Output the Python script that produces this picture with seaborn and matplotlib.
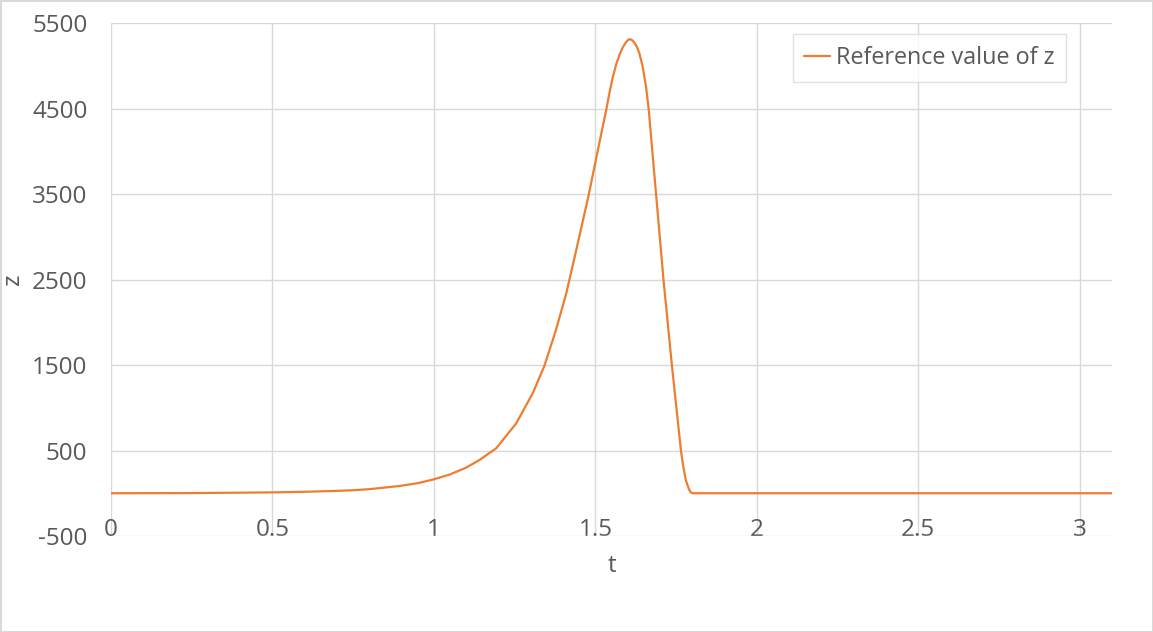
import pandas as pd
import matplotlib
matplotlib.use("Agg")
import matplotlib.pyplot as plt
import seaborn as sns

# valores
t_vals = [0.0, 0.25, 0.5, 0.6, 0.7, 0.75, 0.8, 0.894, 0.95, 1.0, 1.05, 1.1, 1.141,
          1.193, 1.255, 1.306, 1.342, 1.378, 1.41, 1.44, 1.48, 1.5, 1.518, 1.533,
          1.543, 1.553, 1.564, 1.575, 1.585, 1.593, 1.6, 1.605, 1.612, 1.62, 1.628,
          1.636, 1.646, 1.657, 1.665, 1.688, 1.711, 1.737, 1.765, 1.772, 1.78,
          1.79, 1.795, 1.8, 1.85, 2.0, 2.5, 3.0, 3.1]
z_vals = [0, 2, 10, 17, 28, 35, 48, 85, 118, 163, 220, 300, 389,
          526, 818, 1169, 1488, 1909, 2339, 2830, 3500, 3870, 4200, 4470,
          4670, 4850, 5010, 5130, 5215, 5265, 5298, 5310, 5305, 5275, 5225,
          5150, 5000, 4755, 4500, 3500, 2500, 1500, 500, 320, 155,
          45, 15, 0, 0, 0, 0, 0, 0]
serie_label = "Reference value of z"
y_ticks = [-500, 500, 1500, 2500, 3500, 4500, 5500]
x_ticks = [0, 0.5, 1, 1.5, 2, 2.5, 3]
x_tick_labels = ["0", "0.5", "1", "1.5", "2", "2.5", "3"]

dados = pd.DataFrame({"t": t_vals, "z": z_vals})

sns.set_theme(style="white")
plt.rcParams["font.family"] = ["Open Sans", "DejaVu Sans"]
plt.rcParams["axes.unicode_minus"] = False

cinza_txt = "#595959"
cinza_grid = "#d9d9d9"
laranja = "#ED7D31"

fig = plt.figure(figsize=(11.53, 6.32), dpi=100)
fig.patch.set_edgecolor(cinza_grid)
fig.patch.set_linewidth(2)
ax = fig.add_axes([0.0963, 0.1519, 0.8681, 0.8117])

sns.lineplot(data=dados, x="t", y="z", ax=ax, color=laranja, linewidth=1.6,
             label=serie_label)

ax.set_xlim(0, 3.1)
ax.set_ylim(-500, 5500)
ax.set_yticks(y_ticks)
ax.set_xticks(x_ticks)
ax.set_xticklabels(x_tick_labels)
ax.grid(True, color=cinza_grid, linewidth=1)
for s in ax.spines.values():
    s.set_visible(False)

ax.tick_params(axis="y", length=0, pad=17, labelsize=17.5, labelcolor=cinza_txt)
ax.tick_params(axis="x", length=0, pad=-13, labelsize=17.5, labelcolor=cinza_txt)
ax.set_xlabel("t", fontsize=17.5, color=cinza_txt, labelpad=9)
ax.set_ylabel("z", fontsize=17.5, color=cinza_txt, labelpad=5)

leg = ax.legend(loc="upper right", bbox_to_anchor=(0.954, 0.978), fontsize=16.8,
                frameon=True, fancybox=False, edgecolor=cinza_grid,
                handlelength=1.1, handletextpad=0.25, borderpad=0.5,
                borderaxespad=0)
for txt in leg.get_texts():
    txt.set_color(cinza_txt)
leg.get_frame().set_linewidth(1)

fig.savefig("out.png", dpi=100, edgecolor=fig.get_edgecolor())
plt.close(fig)
